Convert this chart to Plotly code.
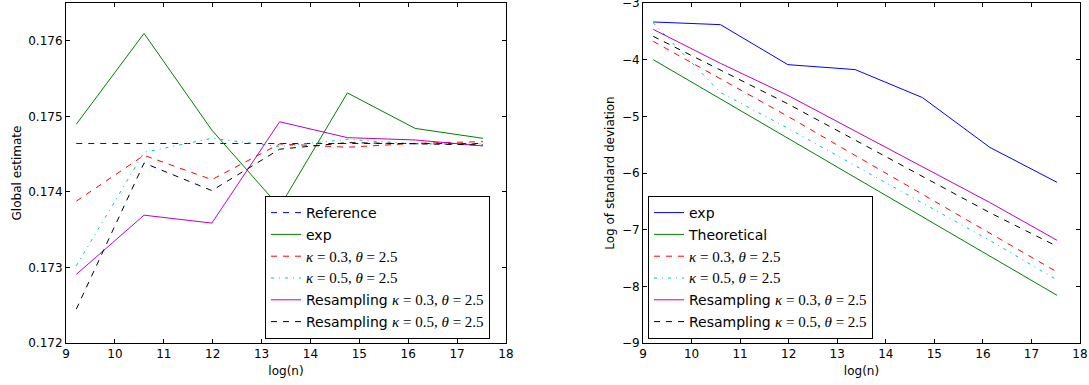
import plotly.graph_objects as go

# ---- data ----
log_n = [9.2103, 10.5966, 11.9829, 13.3692, 14.7555, 16.1418, 17.5281]

# left panel: global estimate
ref_est = [0.17464, 0.17464, 0.17464, 0.17464, 0.17464, 0.17464, 0.17464]
exp_est = [0.174895, 0.176097, 0.174818, 0.17380, 0.175310, 0.174840, 0.174709]
k03_est = [0.173877, 0.174484, 0.174162, 0.174635, 0.174591, 0.174643, 0.174665]
k05_est = [0.173022, 0.174523, 0.174709, 0.174600, 0.174696, 0.174635, 0.174635]
rs03_est = [0.172908, 0.173692, 0.173587, 0.174928, 0.174718, 0.174687, 0.174608]
rs05_est = [0.172448, 0.174382, 0.174017, 0.174565, 0.174652, 0.174635, 0.174621]

# right panel: log of standard deviation
exp_sd = [-3.335, -3.382, -4.088, -4.175, -4.669, -5.547, -6.165]
theo_sd = [-4.000, -4.693, -5.386, -6.080, -6.773, -7.466, -8.159]
k03_sd = [-3.676, -4.340, -5.000, -5.690, -6.380, -7.060, -7.747]
k05_sd = [-3.350, -4.580, -5.210, -5.870, -6.530, -7.190, -7.888]
rs03_sd = [-3.465, -4.065, -4.630, -5.260, -5.880, -6.520, -7.188]
rs05_sd = [-3.588, -4.190, -4.780, -5.420, -6.060, -6.700, -7.294]

SERIF = "font-family:Liberation Serif;font-size:15px"
def mathlab(k):
    return f'<span style="{SERIF}"><i>κ</i> = {k}, <i>θ</i> = 2.5</span>'

lab_ref = "Reference"
lab_exp = "exp"
lab_theo = "Theoretical"
lab_k03 = mathlab("0.3")
lab_k05 = mathlab("0.5")
lab_rs03 = "Resampling " + mathlab("0.3")
lab_rs05 = "Resampling " + mathlab("0.5")

BLUE, GREEN, RED, CYAN, MAG, BLACK = "#0000ff", "#008000", "#ff0000", "#00bfbf", "#bf00bf", "#000000"
DASH = "6px,6px"
DASHDOT = "3px,5px,1px,5px"

fig = go.Figure()
_count = [0]

def add(x, y, name, color, dash, xa, ya, leg):
    _count[0] += 1
    fig.add_trace(go.Scatter(x=x, y=y, name=name, mode="lines",
                             line=dict(color=color, width=1, dash=dash),
                             xaxis=xa, yaxis=ya, legend=leg,
                             legendgroup=f"g{_count[0]}"))

add(log_n, ref_est, lab_ref, BLUE, DASH, "x", "y", "legend")
add(log_n, exp_est, lab_exp, GREEN, "solid", "x", "y", "legend")
add(log_n, k03_est, lab_k03, RED, DASH, "x", "y", "legend")
add(log_n, k05_est, lab_k05, CYAN, DASHDOT, "x", "y", "legend")
add(log_n, rs03_est, lab_rs03, MAG, "solid", "x", "y", "legend")
add(log_n, rs05_est, lab_rs05, BLACK, DASH, "x", "y", "legend")

add(log_n, exp_sd, lab_exp, BLUE, "solid", "x2", "y2", "legend2")
add(log_n, theo_sd, lab_theo, GREEN, "solid", "x2", "y2", "legend2")
add(log_n, k03_sd, lab_k03, RED, DASH, "x2", "y2", "legend2")
add(log_n, k05_sd, lab_k05, CYAN, DASHDOT, "x2", "y2", "legend2")
add(log_n, rs03_sd, lab_rs03, MAG, "solid", "x2", "y2", "legend2")
add(log_n, rs05_sd, lab_rs05, BLACK, DASH, "x2", "y2", "legend2")

W, H = 1089, 385
ml, mr, mt, mb = 66, 9, 3, 42
pw, ph = W - ml - mr, H - mt - mb

axis_common = dict(showline=True, linecolor="black", linewidth=1, mirror="ticks",
                   ticks="inside", ticklen=4, tickwidth=1, tickcolor="black",
                   showgrid=False, zeroline=False, automargin=False,
                   ticklabeloverflow="allow",
                   tickfont=dict(family="DejaVu Sans", size=12, color="black"),
                   title_font=dict(family="DejaVu Sans", size=12, color="black"))

leg_common = dict(xanchor="left", yanchor="top", bgcolor="white",
                  bordercolor="black", borderwidth=1, tracegroupgap=0.6,
                  font=dict(family="DejaVu Sans", size=14, color="black"))

fig.update_layout(
    width=W, height=H,
    margin=dict(l=ml, r=mr, t=mt, b=mb, autoexpand=False),
    paper_bgcolor="white", plot_bgcolor="white",
    font=dict(family="DejaVu Sans", color="black"),
    xaxis=dict(domain=[0, 440 / pw], range=[9, 18], dtick=1, anchor="y",
               title=dict(text="log(n)", standoff=6), **axis_common),
    yaxis=dict(domain=[0, 1], range=[0.172, 0.1765], dtick=0.001, tickformat=".3f",
               anchor="x", title=dict(text="Global estimate", standoff=4), **axis_common),
    xaxis2=dict(domain=[(643 - ml) / pw, 1], range=[9, 18], dtick=1, anchor="y2",
                title=dict(text="log(n)", standoff=6), **axis_common),
    yaxis2=dict(domain=[0, 1], range=[-9, -3], dtick=1, anchor="x2",
                title=dict(text="Log of standard deviation", standoff=4), **axis_common),
    legend=dict(x=(265 - ml) / pw, y=1 - (196 - mt) / ph, **leg_common),
    legend2=dict(x=(648 - ml) / pw, y=1 - (196 - mt) / ph, **leg_common),
)

fig.write_html("out.html", config={"displayModeBar": False},
               post_script="document.body.style.margin='0';document.body.style.overflow='hidden';")
